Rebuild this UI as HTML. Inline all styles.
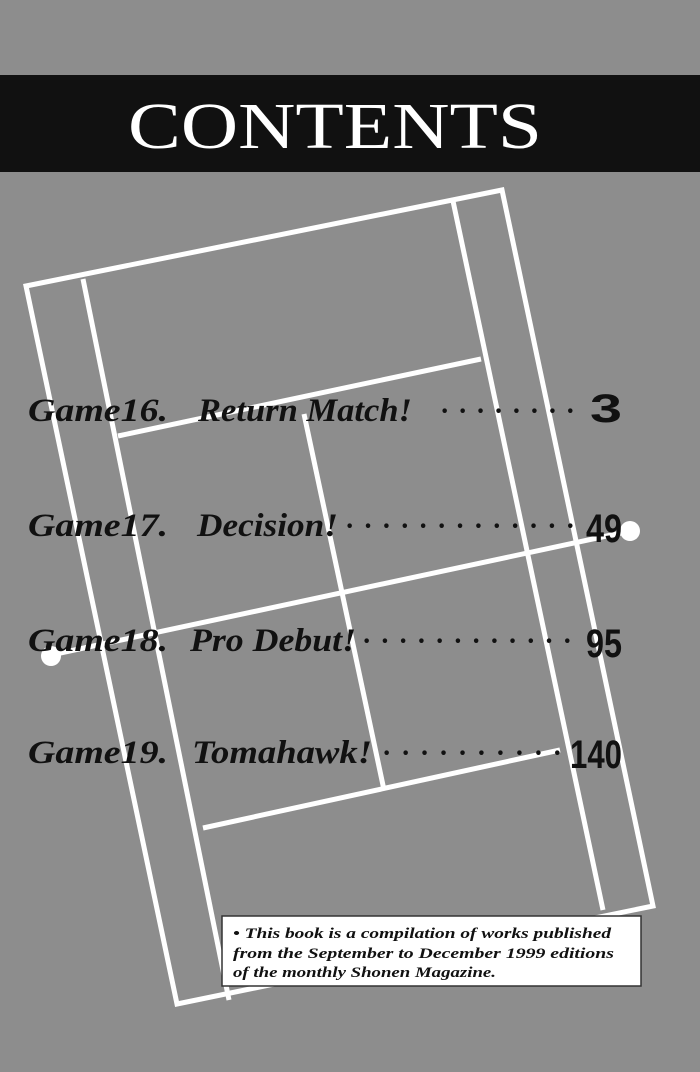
<!DOCTYPE html>
<html><head><meta charset="utf-8"><style>
html,body{margin:0;padding:0;background:#8c8c8c;}
svg{display:block}
</style></head><body>
<svg width="700" height="1072" viewBox="0 0 700 1072" xmlns="http://www.w3.org/2000/svg">
<rect width="700" height="1072" fill="#8d8d8d"/>
<rect x="0" y="75" width="700" height="97" fill="#111"/>
<text x="128" y="148" font-family="Liberation Serif, serif" font-size="66" fill="#fff" textLength="414" lengthAdjust="spacingAndGlyphs">CONTENTS</text>
<g stroke="#fff" stroke-width="5" fill="none" stroke-linejoin="miter">
<polygon points="26,286 502,190 653,906 177,1004"/>
<line x1="83" y1="279" x2="229" y2="1000"/>
<line x1="453" y1="201" x2="603" y2="910"/>
<line x1="118" y1="436" x2="481" y2="359"/>
<line x1="304" y1="414" x2="384" y2="790"/>
<line x1="203" y1="828" x2="560" y2="750"/>
<line x1="51" y1="655" x2="630" y2="531"/>
</g>
<circle cx="51" cy="656" r="10" fill="#fff"/>
<circle cx="630" cy="531" r="10" fill="#fff"/>
<g font-family="Liberation Serif, serif" font-weight="bold" font-style="italic" font-size="33" fill="#111">
<text x="28" y="421" textLength="140" lengthAdjust="spacingAndGlyphs">Game16.</text>
<text x="198" y="421" textLength="214" lengthAdjust="spacingAndGlyphs">Return Match!</text>
<text x="28" y="536" textLength="140" lengthAdjust="spacingAndGlyphs">Game17.</text>
<text x="197" y="536" textLength="141" lengthAdjust="spacingAndGlyphs">Decision!</text>
<text x="28" y="651" textLength="140" lengthAdjust="spacingAndGlyphs">Game18.</text>
<text x="190" y="651" textLength="166" lengthAdjust="spacingAndGlyphs">Pro Debut!</text>
<text x="28" y="763" textLength="140" lengthAdjust="spacingAndGlyphs">Game19.</text>
<text x="192" y="763" textLength="180" lengthAdjust="spacingAndGlyphs">Tomahawk!</text>
</g>
<g fill="#111" font-family="Liberation Serif, serif" font-size="28" font-weight="bold">
<text x="440" y="420" textLength="135" lengthAdjust="spacing">· · · · · · · ·</text>
<text x="345" y="535" textLength="230" lengthAdjust="spacing">· · · · · · · · · · · · ·</text>
<text x="362" y="650" textLength="210" lengthAdjust="spacing">· · · · · · · · · · · ·</text>
<text x="382" y="762" textLength="180" lengthAdjust="spacing">· · · · · · · · · ·</text>
</g>
<g fill="#111" font-family="Liberation Sans Narrow, Liberation Sans, sans-serif" font-weight="bold" font-size="40">
<text x="622" y="422" text-anchor="end" textLength="32" lengthAdjust="spacingAndGlyphs">3</text>
<text x="622" y="542" text-anchor="end" textLength="36" lengthAdjust="spacingAndGlyphs">49</text>
<text x="622" y="657" text-anchor="end" textLength="36" lengthAdjust="spacingAndGlyphs">95</text>
<text x="622" y="768" text-anchor="end" textLength="52" lengthAdjust="spacingAndGlyphs">140</text>
</g>
<rect x="222" y="916" width="419" height="70" fill="#fff" stroke="#333" stroke-width="1.5"/>
<g font-family="Liberation Serif, serif" font-weight="bold" font-style="italic" font-size="15" fill="#111">
<text x="233" y="938" textLength="378" lengthAdjust="spacingAndGlyphs">• This book is a compilation of works published</text>
<text x="233" y="958" textLength="381" lengthAdjust="spacingAndGlyphs">from the September to December 1999 editions</text>
<text x="233" y="977" textLength="263" lengthAdjust="spacingAndGlyphs">of the monthly Shonen Magazine.</text>
</g>
</svg>
</body></html>
